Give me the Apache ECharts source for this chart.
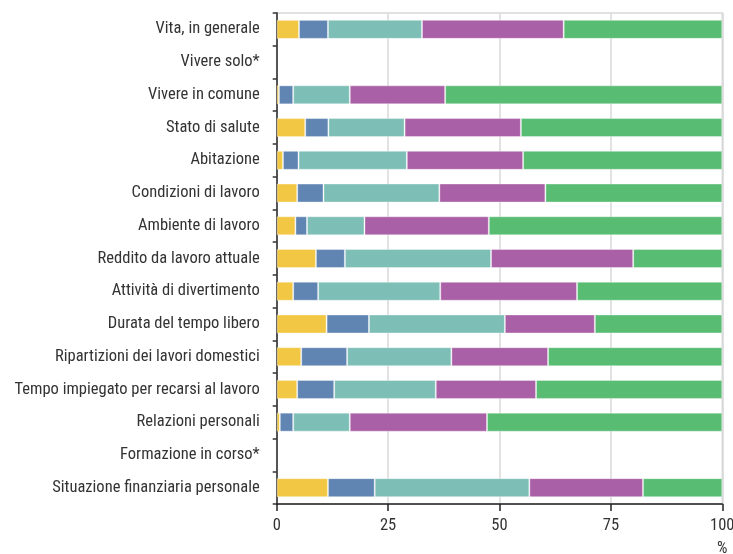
<!DOCTYPE html>
<html>
<head>
<meta charset="utf-8">
<script src="https://cdn.jsdelivr.net/npm/echarts@6/dist/echarts.min.js"></script>
<style>html,body{margin:0;padding:0;background:#fff}#c{width:733px;height:554px}</style>
</head>
<body>
<div id="c"></div>
<script>
var categories = ["Vita, in generale","Vivere solo*","Vivere in comune","Stato di salute","Abitazione","Condizioni di lavoro","Ambiente di lavoro","Reddito da lavoro attuale","Attività di divertimento","Durata del tempo libero","Ripartizioni dei lavori domestici","Tempo impiegato per recarsi al lavoro","Relazioni personali","Formazione in corso*","Situazione finanziaria personale"];
var s1 = [5.0, null, 0.5, 6.4, 1.4, 4.6, 4.2, 8.8, 3.7, 11.2, 5.5, 4.6, 0.7, null, 11.5];
var s2 = [6.5, null, 3.2, 5.2, 3.5, 5.9, 2.6, 6.5, 5.6, 9.5, 10.3, 8.3, 3.0, null, 10.5];
var s3 = [21.1, null, 12.7, 17.1, 24.3, 26.0, 12.9, 32.8, 27.4, 30.5, 23.4, 22.8, 12.7, null, 34.7];
var s4 = [31.8, null, 21.4, 26.1, 26.1, 23.8, 27.9, 31.9, 30.7, 20.2, 21.7, 22.5, 30.8, null, 25.5];
var s5 = [35.6, null, 62.2, 45.2, 44.7, 39.7, 52.4, 20.0, 32.6, 28.6, 39.1, 41.8, 52.8, null, 17.8];
var seriesNames = ["Livello 1","Livello 2","Livello 3","Livello 4","Livello 5"];
var colors = ["#F2C744","#6085B3","#7DBFB6","#AA60A6","#58BC73"];
var xTicks = [0, 25, 50, 75, 100];

var font = "'Liberation Sans Narrow', 'Roboto Condensed', 'DejaVu Sans Condensed', sans-serif";
var data = [s1, s2, s3, s4, s5];
var chart = echarts.init(document.getElementById('c'), null, {renderer: 'canvas'});
chart.setOption({
  animation: false,
  grid: {left: 276.7, right: 10.7, top: 13, bottom: 50, outerBoundsMode: 'none', containLabel: false,
         show: true, borderColor: '#d8d8d8', borderWidth: 1.5, backgroundColor: 'transparent'},
  xAxis: {
    type: 'value', min: xTicks[0], max: xTicks[xTicks.length-1], interval: 25,
    name: '%', nameLocation: 'end', nameGap: 0,
    nameTextStyle: {fontFamily: font, fontSize: 16.5, color: '#333', align: 'center', verticalAlign: 'top', padding: [36, 0, 0, 0]},
    axisLine: {show: true, lineStyle: {color: '#222', width: 1.5}},
    axisTick: {show: true, length: 7, lineStyle: {color: '#222', width: 1.5}},
    axisLabel: {fontFamily: font, fontSize: 16.5, color: '#333', margin: 13},
    splitLine: {show: true, lineStyle: {color: '#d8d8d8', width: 1.5}}
  },
  yAxis: {
    type: 'category', data: categories, inverse: true,
    axisLine: {show: true, lineStyle: {color: '#555', width: 2}},
    axisTick: {show: true, length: 4, lineStyle: {color: '#333', width: 1.5}},
    axisLabel: {fontFamily: font, fontSize: 16.5, color: '#333', margin: 17},
    splitLine: {show: false}
  },
  series: data.map(function (d, i) {
    return {
      name: seriesNames[i], type: 'bar', stack: 'tot', data: d, barWidth: 19,
      itemStyle: {color: colors[i], borderColor: 'rgba(255,255,255,0.35)', borderWidth: 1}
    };
  })
});
</script>
</body>
</html>
